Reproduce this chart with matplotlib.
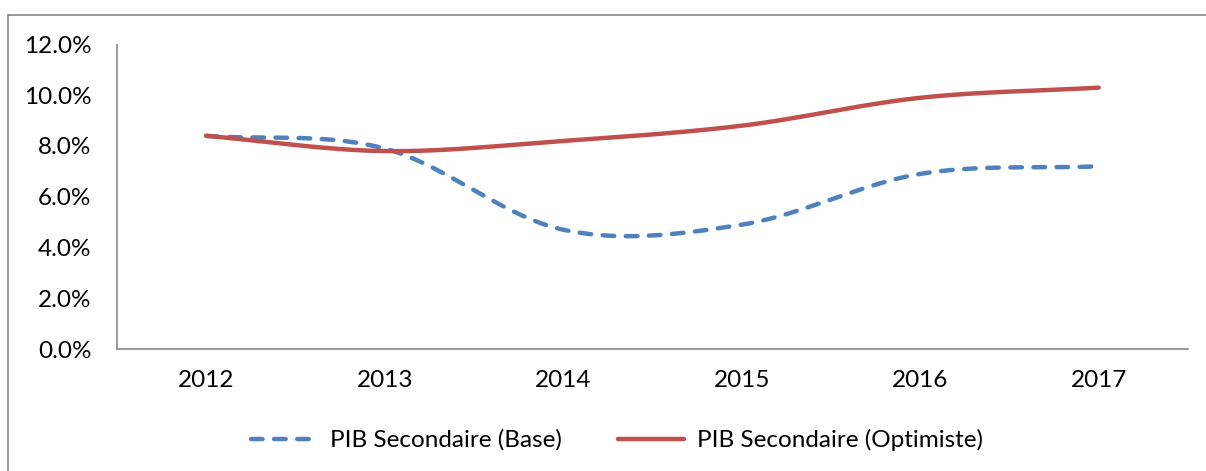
import numpy as np
import matplotlib.pyplot as plt
from matplotlib.patches import Rectangle

years = ['2012', '2013', '2014', '2015', '2016', '2017']
base = [8.4, 7.9, 4.7, 4.9, 6.9, 7.2]
optimiste = [8.4, 7.8, 8.2, 8.8, 9.9, 10.3]
labels = ['PIB Secondaire (Base)', 'PIB Secondaire (Optimiste)']

plt.rcParams['font.family'] = ['Lato', 'DejaVu Sans']
plt.rcParams['font.size'] = 17.5


def smooth(y, n=40):
    # courbe lissée façon Excel (Catmull-Rom)
    y = np.asarray(y, dtype=float)
    p = np.concatenate([[2*y[0] - y[1]], y, [2*y[-1] - y[-2]]])
    xs, ys = [], []
    for i in range(len(y) - 1):
        p0, p1, p2, p3 = p[i], p[i+1], p[i+2], p[i+3]
        m1 = (p2 - p0) / 2
        m2 = (p3 - p1) / 2
        t = np.linspace(0, 1, n)
        h00 = 2*t**3 - 3*t**2 + 1
        h10 = t**3 - 2*t**2 + t
        h01 = -2*t**3 + 3*t**2
        h11 = t**3 - t**2
        xs.append(i + t)
        ys.append(h00*p1 + h10*m1 + h01*p2 + h11*m2)
    return np.concatenate(xs), np.concatenate(ys)


fig = plt.figure(figsize=(12.06, 4.71), dpi=100)
ax = fig.add_axes([117/1206, 1 - 349/471, (1188-117)/1206, (349-44.5)/471])

xb, yb = smooth(base)
xo, yo = smooth(optimiste)
ax.plot(xb, yb, color='#4F81BD', lw=3.2, linestyle=(0, (2.6, 2.6)),
        dash_capstyle='round', solid_capstyle='round', label=labels[0])
ax.plot(xo, yo, color='#C0504D', lw=3.2, solid_capstyle='round', label=labels[1])

ax.set_xlim(-0.5, len(years) - 0.5)
ax.set_ylim(0, 12)
ax.set_xticks(range(len(years)))
ax.set_xticklabels(years)
ax.set_yticks(np.arange(0, 12.1, 2))
ax.set_yticklabels(['%.1f%%' % v for v in np.arange(0, 12.1, 2)])
ax.tick_params(length=0)
ax.tick_params(axis='y', pad=18.5)
ax.tick_params(axis='x', pad=15)
for s in ['top', 'right']:
    ax.spines[s].set_visible(False)
for s in ['left', 'bottom']:
    ax.spines[s].set_color('#868686')
    ax.spines[s].set_linewidth(1.2)

fig.legend(loc='center', bbox_to_anchor=(617/1206, 1 - 440/471), ncol=2,
           frameon=False, handlelength=2.7, columnspacing=2.3, handletextpad=0.55)

fig.add_artist(Rectangle((8/1206, -0.1), 1.2, 1.1 - 14.7/471,
                         transform=fig.transFigure, fill=False,
                         edgecolor='#868686', lw=1.2))

fig.savefig('out.png', dpi=100)
